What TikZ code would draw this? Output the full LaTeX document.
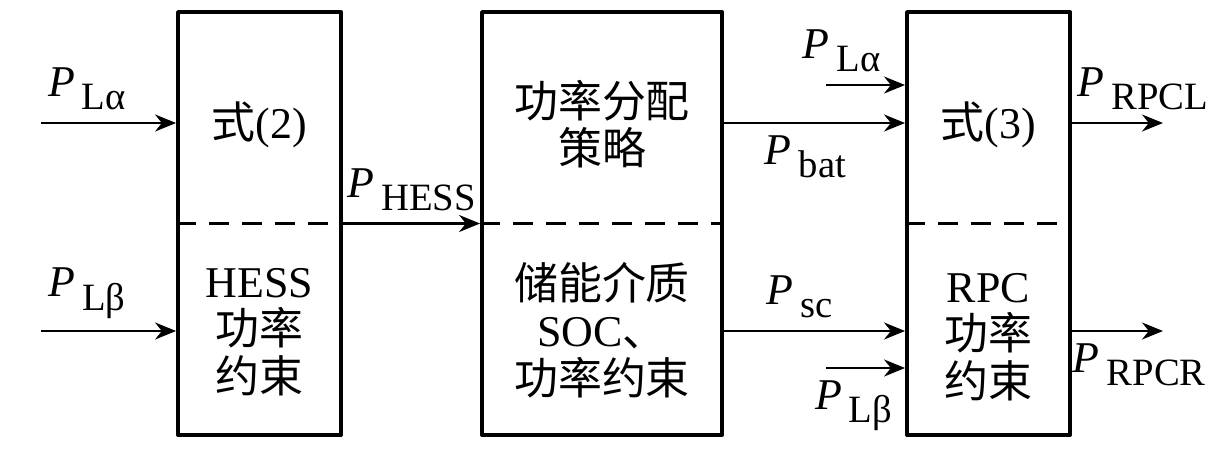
\documentclass[tikz,border=0pt]{standalone}
\usepackage{fontspec}
\setmainfont{Liberation Serif}
\newfontfamily\cjk{Noto Sans CJK SC}
\usetikzlibrary{arrows.meta}
\newcommand\pw[1]{\textit{P}\kern2pt\raisebox{-0.65ex}{\fontsize{11}{11}\selectfont #1}}
\begin{document}
\begin{tikzpicture}[>={Stealth[length=2.1mm,width=1.7mm]}, font=\fontsize{12.5}{13}\selectfont, line join=round,
	blk/.style={draw, line width=1.1pt, minimum width=#1, minimum height=4.23cm, inner sep=0pt},
	sig/.style={->, line width=0.6pt},
	sep/.style={dash pattern=on 2mm off 1.3mm, line width=0.6pt},
	txt/.style={align=center, font=\fontsize{12.5}{13.5}\selectfont}]
	\useasboundingbox (0,0) rectangle (12.26,4.55);
	\node[blk=1.63cm] (k1) at (2.595,2.315) {};
	\node[blk=2.40cm] (k2) at (6.02,2.315) {};
	\node[blk=1.63cm] (k3) at (9.885,2.315) {};
	\foreach \k in {k1,k2,k3} \draw[sep] (\k.west)--(\k.east);
	% texts in the blocks
	\node[txt] (t1) at (2.595,3.30) {{\cjk 式}(2)};
	\node[txt] (t2) at (2.595,1.23) {HESS\\{\cjk 功率}\\{\cjk 约束}};
	\node[txt] (t3) at (6.02,3.31) {{\cjk 功率分配}\\{\cjk 策略}};
	\node[txt] (t4) at (6.02,1.25) {{\cjk 储能介质}\\SOC{\cjk 、}\\{\cjk 功率约束}};
	\node[txt] (t5) at (9.885,3.30) {{\cjk 式}(3)};
	\node[txt] (t6) at (9.885,1.18) {RPC\\{\cjk 功率}\\{\cjk 约束}};
	% free ends
	\coordinate (a1) at (0.41,3.32); \coordinate (a2) at (0.41,1.24);
	\coordinate (a3) at (8.26,3.70); \coordinate (a4) at (8.26,0.87);
	\coordinate (o1) at (11.63,3.32); \coordinate (o2) at (11.63,1.24);
	\draw[sig] (a1)--(a1-|k1.west) node[pos=0.34,above] (l1){\pw{Lα}};
	\draw[sig] (a2)--(a2-|k1.west) node[pos=0.34,above] (l2){\pw{Lβ}};
	\draw[sig] (k1.east)--(k2.west) node[midway,above] (l3){\pw{HESS}};
	\draw[sig] (k2.east|-a1)--(k3.west|-a1) node[pos=0.45,below] (l4){\pw{bat}};
	\draw[sig] (k2.east|-a2)--(k3.west|-a2) node[pos=0.42,above] (l5){\pw{sc}};
	\draw[sig] (a3)--(a3-|k3.west) node[pos=0.2,above] (l6){\pw{Lα}};
	\draw[sig] (a4)--(a4-|k3.west) node[pos=0.35,below] (l7){\pw{Lβ}};
	\draw[sig] (k3.east|-o1)--(o1) node[pos=0.78,above] (l8){\pw{RPCL}};
	\draw[sig] (k3.east|-o2)--(o2) node[pos=0.74,below] (l9){\pw{RPCR}};
\end{tikzpicture}
\end{document}
